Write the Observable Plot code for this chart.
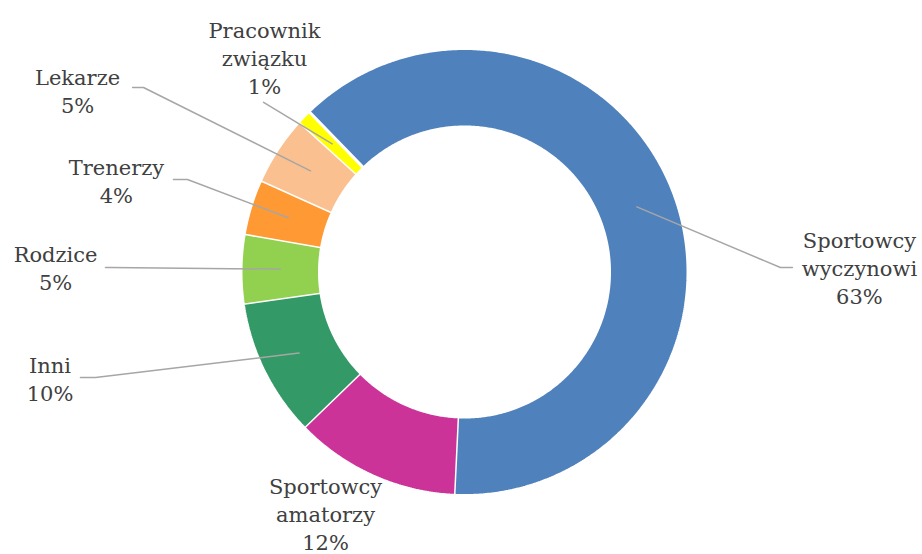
<!DOCTYPE html>
<html><head><meta charset="utf-8">
<script src="https://cdn.jsdelivr.net/npm/d3@7"></script>
<script src="https://cdn.jsdelivr.net/npm/@observablehq/plot@0.6"></script>
<style>body{margin:0;background:#fff}</style>
</head><body><div id="chart"></div>
<script>
// ---- data ----
const categories = ["Sportowcy wyczynowi","Sportowcy amatorzy","Inni","Rodzice","Trenerzy","Lekarze","Pracownik związku"];
const labelTexts = ["Sportowcy\nwyczynowi","Sportowcy\namatorzy","Inni","Rodzice","Trenerzy","Lekarze","Pracownik\nzwiązku"];
const values = [63,12,10,5,4,5,1];
const colors = ["#4F81BD","#CC3399","#339966","#92D050","#FF9933","#FAC090","#FFFF00"];

// ---- layout (units of outer radius, measured from the donut centre) ----
const W = 922, H = 554, R = 222, cx = 464, cy = 271.5;
const innerRatio = 0.66, rotationDeg = -44.1, strokePad = 1.5 / 222;
const labelAnchor = [[1.779,-0.142],[-0.626,-1.254],[-1.867,-0.579],[-1.842,-0.083],[-1.568,0.309],[-1.743,0.718],[-0.901,0.80]];
const leaderStart = [[1.477,0.020],null,[-1.730,-0.475],[-1.617,0.020],[-1.311,0.417],[-1.495,0.831],[-0.905,0.764]];
const leaderElbow = [[1.423,0.020],null,[-1.662,-0.475],[-1.595,0.020],[-1.248,0.417],[-1.446,0.831],[-0.905,0.764]];

const rot = rotationDeg * Math.PI / 180;
const arcs = d3.pie().sort(null).startAngle(rot).endAngle(rot + 2*Math.PI)(values);
const polar = (r, a) => [r*Math.sin(a), r*Math.cos(a)];

const slicePts = [];
arcs.forEach((a, i) => {
  const n = Math.max(2, Math.ceil((a.endAngle - a.startAngle) / (Math.PI/360)) + 1);
  const outer = d3.range(n).map(k => a.startAngle + (a.endAngle - a.startAngle) * k/(n-1));
  outer.forEach(t => { const [x,y] = polar(1 + strokePad, t); slicePts.push({category: categories[i], x, y}); });
  outer.slice().reverse().forEach(t => { const [x,y] = polar(innerRatio - strokePad, t); slicePts.push({category: categories[i], x, y}); });
});

const leaderPts = [];
arcs.forEach((a, i) => {
  if (!leaderStart[i]) return;
  const mid = (a.startAngle + a.endAngle)/2;
  const [ex, ey] = polar((1 + innerRatio)/2, mid);
  leaderPts.push({category: categories[i], x: leaderStart[i][0], y: leaderStart[i][1]});
  leaderPts.push({category: categories[i], x: leaderElbow[i][0], y: leaderElbow[i][1]});
  leaderPts.push({category: categories[i], x: ex, y: ey});
});

const labels = categories.map((c, i) => ({
  category: c, x: labelAnchor[i][0], y: labelAnchor[i][1],
  text: labelTexts[i] + "\n" + values[i] + "%"
}));

const chart = Plot.plot({
  width: W, height: H, margin: 0,
  style: {background: "#fff"},
  x: {axis: null, domain: [-cx/R, (W - cx)/R]},
  y: {axis: null, domain: [(cy - H)/R, cy/R]},
  color: {domain: categories, range: colors},
  marks: [
    Plot.line(slicePts, {x: "x", y: "y", z: "category", fill: "category", stroke: "#fff", strokeWidth: 3, strokeLinejoin: "miter"}),
    Plot.line(leaderPts, {x: "x", y: "y", z: "category", stroke: "#A6A6A6", strokeWidth: 1.5}),
    Plot.text(labels, {x: "x", y: "y", text: "text", textAnchor: "middle", lineAnchor: "bottom",
      lineHeight: 28/21, fontSize: 21, fontFamily: "DejaVu Serif", fill: "#404040"})
  ]
});
document.getElementById("chart").appendChild(chart);
</script>
</body></html>
